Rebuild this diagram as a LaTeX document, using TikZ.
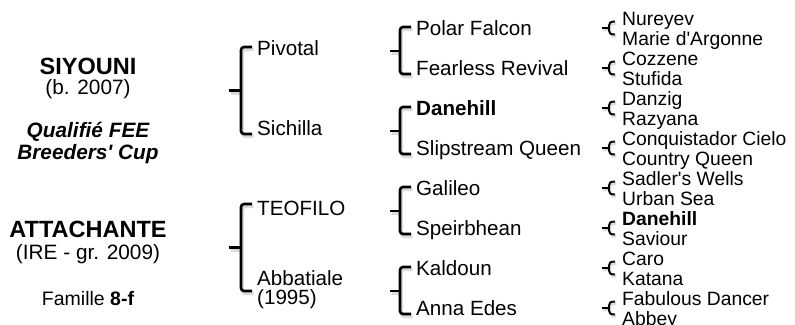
\documentclass[tikz,border=0pt]{standalone}
\usepackage{fontspec}
\setmainfont{Liberation Sans}[Ligatures=TeXOff]

\begin{document}
\begin{tikzpicture}[x=1pt,y=-1pt,
  every node/.style={inner sep=0pt,anchor=base west},
  sire/.style={font=\fontsize{23.5}{26}\selectfont\bfseries,anchor=base},
  born/.style={font=\fontsize{20.8}{24}\selectfont,anchor=base},
  quali/.style={font=\fontsize{20.8}{24}\selectfont\bfseries\itshape,anchor=base},
  fam/.style={font=\fontsize{19.5}{22}\selectfont,anchor=base},
  gen/.style={font=\fontsize{20.6}{24}\selectfont},
  ggen/.style={font=\fontsize{19.3}{20}\selectfont},
  brk/.style={line width=2.6pt,rounded corners=3pt},
  brkshade/.style={gray!28,line width=3.2pt,rounded corners=3pt,shift={(1.5,2.5)}},
  curl/.style={line width=1.9pt},
  curlshade/.style={gray!28,line width=2.4pt,shift={(1.2,2)}}]
  \useasboundingbox (0,0) rectangle (795,324);
  % left column
  \node[sire] (siyouni) at (88,74) {SIYOUNI};
  \node[born] (siyborn) at (88,94.5) {(b. 2007)};
  \node[quali] (qualif) at (88,137.5) {Qualifié FEE};
  \node[quali] (bcup) at (88,159) {Breeders' Cup};
  \node[sire] (attach) at (88,237.5) {ATTACHANTE};
  \node[born] (attborn) at (88,259) {(IRE - gr. 2009)};
  \node[fam] (famille) at (88,305.5) {Famille \textbf{8-f}};
  % first brackets
  \foreach \c in {90.5,247.5}
    {\draw[brkshade] (252,\c-43.5) -- (241,\c-43.5) -- (241,\c+43.5) -- (252,\c+43.5);
      \draw[brkshade] (229,\c) -- (241,\c);
      \draw[brk] (252,\c-43.5) -- (241,\c-43.5) -- (241,\c+43.5) -- (252,\c+43.5);
      \draw[brk] (229,\c) -- (241,\c);}
  \node[gen] (pivotal) at (257,55.5) {Pivotal};
  \node[gen] (sichilla) at (257,135.5) {Sichilla};
  \node[gen] (teofilo) at (257,215.5) {TEOFILO};
  \node[gen] (abbatiale) at (257,285) {Abbatiale};
  \node[gen] (abbyear) at (257,304.5) {(1995)};
  % second brackets
  \foreach \c in {51,131,211,291}
    {\draw[brkshade] (411,\c-24) -- (400,\c-24) -- (400,\c+23) -- (411,\c+23);
      \draw[brkshade] (390,\c) -- (400,\c);
      \draw[brk] (411,\c-24) -- (400,\c-24) -- (400,\c+23) -- (411,\c+23);
      \draw[brk] (390,\c) -- (400,\c);}
  \node[gen] (polar) at (416,35.5) {Polar Falcon};
  \node[gen] (fearless) at (416,75.5) {Fearless Revival};
  \node[gen] (danehill) at (416,115.5) {\textbf{Danehill}};
  \node[gen] (slipstream) at (416,155.5) {Slipstream Queen};
  \node[gen] (galileo) at (416,195.5) {Galileo};
  \node[gen] (speirbhean) at (416,235.5) {Speirbhean};
  \node[gen] (kaldoun) at (416,275.5) {Kaldoun};
  \node[gen] (annaedes) at (416,315.5) {Anna Edes};
  % third brackets
  \foreach \c in {28,68,108,148,188,228,268,308}
    {\draw[curlshade] (615,\c-6.5) .. controls (610,\c-6.5) and (609,\c-5) .. (609,\c-2.5)
        -- (609,\c+2.5) .. controls (609,\c+5) and (610,\c+6.5) .. (615,\c+6.5);
      \draw[curlshade] (602,\c) -- (609,\c);
      \draw[curl] (615,\c-6.5) .. controls (610,\c-6.5) and (609,\c-5) .. (609,\c-2.5)
        -- (609,\c+2.5) .. controls (609,\c+5) and (610,\c+6.5) .. (615,\c+6.5);
      \draw[curl] (602,\c) -- (609,\c);}
  \foreach \nm [count=\i from 0] in {Nureyev,Marie d'Argonne,Cozzene,Stufida,
      Danzig,Razyana,Conquistador Cielo,Country Queen,Sadler's Wells,Urban Sea,
      \textbf{Danehill},Saviour,Caro,Katana,Fabulous Dancer,Abbey}
    \node[ggen] (gg\i) at (622,25+20*\i) {\nm};
\end{tikzpicture}
\end{document}
